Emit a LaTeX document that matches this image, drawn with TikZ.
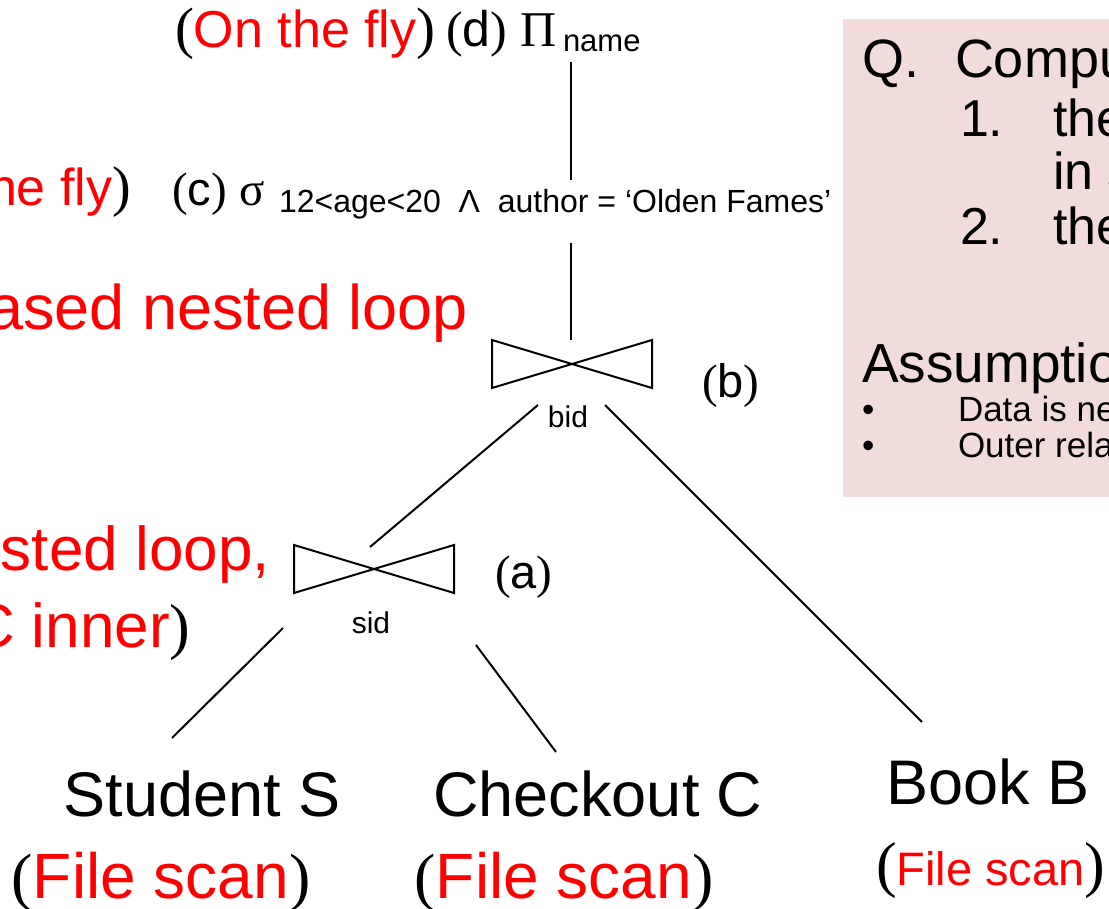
\documentclass[tikz,border=0pt]{standalone}
\usepackage{fontspec}
\setmainfont{Liberation Sans}
\newfontfamily\timesfont{Liberation Serif}
\newcommand{\fsz}[1]{\fontsize{#1}{#1}\selectfont}
\newcommand{\lp}{{\timesfont(}}
\newcommand{\rp}{{\timesfont)}}
\definecolor{notebg}{HTML}{F2DCDB}
\definecolor{hot}{HTML}{FF0000}

\begin{document}
\begin{tikzpicture}[x=1pt,y=-1pt,
  lbl/.style={anchor=base west, inner sep=0pt, outer sep=0pt},
  ctr/.style={anchor=base, inner sep=0pt, outer sep=0pt},
  edge/.style={line width=2pt, black},
  bowtie/.pic={\draw[line width=2pt, line join=miter]
     (-80,-24) -- (80,24) -- (80,-24) -- (-80,24) -- cycle;}]
\useasboundingbox (0,0) rectangle (1109,909);
\clip (0,0) rectangle (1109,909);

% note panel on the right
\fill[notebg] (843,19) rectangle (1130,497);
\node[lbl] (q)    at (862,78)  {\fsz{54}Q.};
\node[lbl] (qtxt) at (955,78)  {\fsz{54}Compu};
\node[lbl] (n1)   at (960,137) {\fsz{52}1.};
\node[lbl] (n1a)  at (1053,137){\fsz{52}the};
\node[lbl] (n1b)  at (1053,190){\fsz{52}in s};
\node[lbl] (n2)   at (960,245) {\fsz{52}2.};
\node[lbl] (n2a)  at (1053,245){\fsz{52}the};
\node[lbl] (asm)  at (862,383) {\fsz{55}Assumptio};
\node[lbl] (bl1)  at (862,421) {\fsz{35}•};
\node[lbl] (as1)  at (958,421) {\fsz{35}Data is ne};
\node[lbl] (bl2)  at (862,457) {\fsz{35}•};
\node[lbl] (as2)  at (958,457) {\fsz{35}Outer rela};

% projection (d)
\node[lbl] (flyd) at (175,48) {{\fsz{57}\lp}{\fsz{52}\textcolor{hot}{On the fly}}{\fsz{57}\rp}};
\node[lbl] (opd)  at (446,47) {\fsz{50}\lp d\rp\ {\timesfont Π}};
\node[lbl] (subd) at (563,52) {\fsz{31}name};

% selection (c)
\node[lbl] (flyc) at (-12,206) {{\fsz{52}\textcolor{hot}{he fly}}{\fsz{56}\rp}};
\node[lbl] (opc)  at (172,206) {\fsz{47}\lp c\rp\ {\timesfont σ}};
\node[lbl] (subc) at (279,213) {\fsz{32}12<age<20\ \ Λ\ \ author = ‘Olden Fames’};

% join (b)
\node[lbl] (algb) at (-12,330) {\fsz{63}\textcolor{hot}{ased nested loop}};
\pic at (572,364) {bowtie};
\node[lbl] (labb) at (702,398) {\fsz{47}\lp b\rp};
\node[ctr] (keyb) at (568,427) {\fsz{30}bid};

% join (a)
\node[lbl] (alga1) at (1,570)   {\fsz{62}\textcolor{hot}{sted loop,}};
\node[lbl] (alga2) at (-30,647) {\fsz{62}\textcolor{hot}{C inner}\rp};
\pic at (374,569) {bowtie};
\node[lbl] (laba) at (495,588) {\fsz{47}\lp a\rp};
\node[ctr] (keya) at (371,633) {\fsz{30}sid};

% base relations
\node[ctr] (stu)  at (202,816) {\fsz{63}Student S};
\node[ctr] (stus) at (161,898) {\fsz{64}\lp\textcolor{hot}{File scan}\rp};
\node[ctr] (chk)  at (598,816) {\fsz{63}Checkout C};
\node[ctr] (chks) at (564,898) {\fsz{64}\lp\textcolor{hot}{File scan}\rp};
\node[ctr] (bk)   at (988,804) {\fsz{63}Book B};
\node[lbl] (bks)  at (876,885) {\fsz{62}\lp{\fsz{47}\textcolor{hot}{File scan}}\rp};

% connector ends
\coordinate (d-out) at (571,62);   \coordinate (c-in)  at (571,180);
\coordinate (c-out) at (571,243);  \coordinate (b-in)  at (571,340);
\coordinate (b-l)   at (538,405);  \coordinate (a-in)  at (370,547);
\coordinate (b-r)   at (605,405);  \coordinate (bk-in) at (922,722);
\coordinate (a-l)   at (283,628);  \coordinate (stu-in) at (172,738);
\coordinate (a-r)   at (476,645);  \coordinate (chk-in) at (556,752);

\draw[edge] (d-out) -- (c-in);
\draw[edge] (c-out) -- (b-in);
\draw[edge] (b-l) -- (a-in);
\draw[edge] (b-r) -- (bk-in);
\draw[edge] (a-l) -- (stu-in);
\draw[edge] (a-r) -- (chk-in);
\end{tikzpicture}
\end{document}
